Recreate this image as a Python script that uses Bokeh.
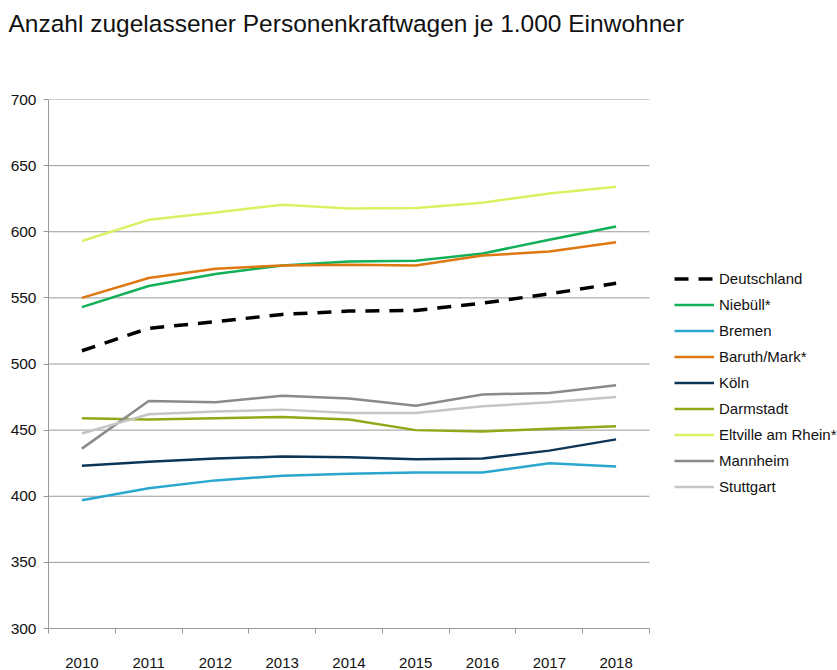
from bokeh.plotting import figure
from bokeh.models import FixedTicker, Legend, LegendItem, Range1d, LinearAxis
from bokeh.embed import file_html
from bokeh.resources import INLINE

years = [2010, 2011, 2012, 2013, 2014, 2015, 2016, 2017, 2018]

deutschland = [510, 527, 532, 537.5, 540, 540.5, 546, 553, 561]
niebuell = [543, 559, 568, 574.5, 577.5, 578, 583.5, 594, 604]
bremen = [397, 406, 412, 415.5, 417, 418, 418, 425, 422.5]
baruth = [550, 565, 572, 574.5, 575, 574.5, 582, 585, 592]
koeln = [423, 426, 428.5, 430, 429.5, 428, 428.5, 434.5, 443]
darmstadt = [459, 458, 459, 460, 458, 450, 449, 451, 453]
eltville = [593, 609, 614.5, 620.5, 617.5, 618, 622, 629, 634]
mannheim = [436, 472, 471, 476, 474, 468.5, 477, 478, 484]
stuttgart = [447.5, 462, 464, 465.5, 463, 463, 468, 471, 475]

y_ticks = [300, 350, 400, 450, 500, 550, 600, 650, 700]

series = [
    ("Deutschland", deutschland, "#000000", 3.5, "14 10"),
    ("Niebüll*", niebuell, "#12b05a", 2.5, "solid"),
    ("Bremen", bremen, "#2aa7cf", 2.5, "solid"),
    ("Baruth/Mark*", baruth, "#e07812", 2.5, "solid"),
    ("Köln", koeln, "#0c3556", 2.5, "solid"),
    ("Darmstadt", darmstadt, "#8eaa18", 2.5, "solid"),
    ("Eltville am Rhein*", eltville, "#dcf064", 2.5, "solid"),
    ("Mannheim", mannheim, "#8a8a8a", 2.5, "solid"),
    ("Stuttgart", stuttgart, "#c6c6c6", 2.5, "solid"),
]

FONT = "Liberation Sans"
GRID = "#9a9a9a"

# layout (pixels)
W, H = 837, 670
LEFT, TOP, BOTTOM = 48, 99, 42
AXIS_RIGHT = 649  # where the category axis ends

x_start = years[0] - 0.5
x_axis_end = years[-1] + 0.5
px_per_year = (AXIS_RIGHT - LEFT) / (x_axis_end - x_start)
x_frame_end = x_start + (W - LEFT) / px_per_year

p = figure(width=W, height=H, output_backend="svg", toolbar_location=None,
           x_range=Range1d(x_start, x_frame_end),
           y_range=Range1d(y_ticks[0], y_ticks[-1]),
           min_border_left=LEFT, min_border_right=0, min_border_top=TOP,
           min_border_bottom=BOTTOM,
           title="Anzahl zugelassener Personenkraftwagen je 1.000 Einwohner")

p.outline_line_color = None
p.title.text_font = FONT
p.title.text_font_size = "24.5px"
p.title.text_font_style = "normal"
p.title.text_color = "#111111"
p.title.offset = -40
p.title.vertical_align = "top"
p.title.standoff = 19

# blank spacer between the title and the plot area: a single white tick at the
# far right edge, whose label is never drawn
spacer = LinearAxis(ticker=FixedTicker(ticks=[x_frame_end]), major_tick_out=51,
                    major_tick_in=0, major_label_standoff=0,
                    major_label_text_font_size="0px",
                    major_label_text_color=None, major_label_text_alpha=0,
                    axis_line_color=None, major_tick_line_color="#ffffff",
                    major_tick_line_width=1, minor_tick_line_color=None)
p.add_layout(spacer, "above")

# horizontal gridlines limited to the category axis extent
p.segment(x0=[x_start] * len(y_ticks), x1=[x_axis_end] * len(y_ticks),
          y0=y_ticks, y1=y_ticks, line_color=GRID, line_width=1)

renderers = []
for name, vals, color, w, dash in series:
    r = p.line(years, vals, line_color=color, line_width=w, line_dash=dash)
    renderers.append((name, r))

# x axis: labels at centers, ticks at boundaries
boundaries = [y - 0.5 for y in years] + [years[-1] + 0.5]
xaxis = p.below[0]
xaxis.bounds = (x_start, x_axis_end)
xaxis.ticker = FixedTicker(ticks=years, minor_ticks=boundaries)
xaxis.major_label_overrides = {y: str(y) for y in years}
xaxis.major_tick_out = 0
xaxis.major_tick_in = 0
xaxis.minor_tick_out = 5
xaxis.minor_tick_in = 0
xaxis.minor_tick_line_color = GRID
xaxis.axis_line_color = GRID
xaxis.major_label_standoff = 24
xaxis.major_label_text_font = FONT
xaxis.major_label_text_font_size = "15px"
xaxis.major_label_text_color = "#111111"
p.xgrid.visible = False
p.ygrid.visible = False

p.yaxis.ticker = FixedTicker(ticks=y_ticks)
p.yaxis.major_tick_out = 5
p.yaxis.major_tick_in = 0
p.yaxis.minor_tick_line_color = None
p.yaxis.major_tick_line_color = GRID
p.yaxis.axis_line_color = GRID
p.yaxis.major_label_standoff = 7
p.yaxis.major_label_text_font = FONT
p.yaxis.major_label_text_font_size = "15.5px"
p.yaxis.major_label_text_color = "#111111"

legend = Legend(items=[LegendItem(label=n, renderers=[r]) for n, r in renderers],
                location=(626, 131), orientation="vertical",
                glyph_width=40, glyph_height=21, label_height=21, spacing=5,
                label_standoff=5, padding=0, margin=0,
                border_line_color=None, background_fill_alpha=0,
                label_text_font=FONT, label_text_font_size="15px",
                label_text_color="#111111")
p.add_layout(legend, "center")

open("out.html", "w").write(file_html(p, INLINE))
